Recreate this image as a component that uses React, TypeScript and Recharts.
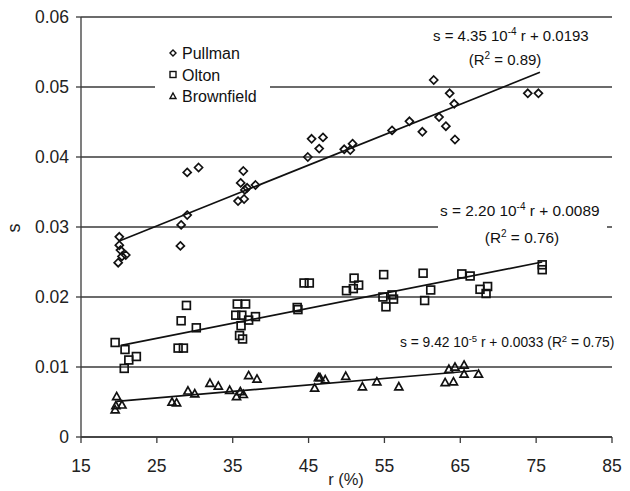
import React from "react";
import {
  ScatterChart,
  Scatter,
  XAxis,
  YAxis,
  CartesianGrid,
  ReferenceLine,
  Customized,
} from "recharts";

// Pullman
const pullmanR = [
  20.05, 20.05, 20.2, 20.9, 20.4, 19.9, 28.1, 28.2, 29.0, 29.0, 30.5, 35.7, 36.5, 36.05, 36.4, 36.6,
  36.9, 38.0, 44.9, 45.4, 46.9, 46.4, 49.7, 50.5, 50.8, 56.0, 58.3, 60.0, 61.5, 62.2, 63.1, 63.6,
  64.2, 64.3, 73.9, 75.3,
];
const pullmanS = [
  0.0286, 0.0274, 0.0267, 0.026, 0.0258, 0.0249, 0.0273, 0.0303, 0.0317, 0.0378, 0.0385, 0.0337,
  0.034, 0.0363, 0.038, 0.0353, 0.0356, 0.036, 0.04, 0.0426, 0.0428, 0.0412, 0.0411, 0.041, 0.0419,
  0.0438, 0.0451, 0.0436, 0.051, 0.0457, 0.0444, 0.0491, 0.0476, 0.0425, 0.0491, 0.0491,
];

// Olton
const oltonR = [
  19.5, 20.8, 21.3, 20.7, 22.3, 27.8, 28.5, 28.2, 28.9, 30.2, 35.6, 36.7, 35.4, 36.2, 37.1, 38.0,
  36.1, 35.9, 36.3, 43.5, 43.6, 44.4, 45.1, 50.0, 50.9, 51.0, 51.6, 54.8, 54.9, 55.2, 56.0, 56.2,
  60.1, 60.3, 61.1, 65.2, 66.3, 67.6, 68.4, 68.6, 75.8, 75.8,
];
const oltonS = [
  0.0135, 0.0125, 0.011, 0.0098, 0.0115, 0.0127, 0.0127, 0.0166, 0.0188, 0.0156, 0.019, 0.019,
  0.0174, 0.0174, 0.0167, 0.0172, 0.0159, 0.0145, 0.014, 0.0185, 0.0182, 0.022, 0.022, 0.0209,
  0.0212, 0.0227, 0.0217, 0.02, 0.0232, 0.0186, 0.0203, 0.0197, 0.0234, 0.0195, 0.021, 0.0233,
  0.023, 0.0211, 0.0205, 0.0215, 0.0246, 0.0239,
];

// Brownfield
const brownR = [
  19.7, 19.5, 19.6, 20.4, 27.0, 27.6, 29.1, 30.0, 32.0, 33.1, 34.6, 35.5, 36.0, 36.4, 37.1, 38.2,
  45.8, 46.3, 46.5, 47.2, 49.9, 52.1, 54.0, 56.9, 63.0, 64.1, 63.5, 64.3, 65.5, 65.5, 67.4,
];
const brownS = [
  0.0058, 0.0039, 0.0045, 0.0046, 0.005, 0.0049, 0.0066, 0.0062, 0.0077, 0.0073, 0.0067, 0.0058,
  0.0065, 0.0061, 0.0088, 0.0083, 0.007, 0.0085, 0.0085, 0.0082, 0.0087, 0.0072, 0.0079, 0.0072,
  0.0078, 0.0079, 0.0097, 0.01, 0.0103, 0.009, 0.009,
];

// fitted lines: [r start, s start, r end, s end]
const pullmanFit = [20.05, 0.028, 75.5, 0.0521];
const oltonFit = [20.3, 0.0131, 75.8, 0.025];
const brownFit = [19.7, 0.0051, 67.2, 0.0095];

const xTicks = [15, 25, 35, 45, 55, 65, 75, 85];
const yTicks = [0, 0.01, 0.02, 0.03, 0.04, 0.05, 0.06];

const INK = "#111";
const GRID = "#3a3a3a";
const FONT = "'Liberation Sans', Arial, sans-serif";

const toPoints = (r: number[], s: number[]) => r.map((v, i) => ({ r: v, s: s[i] }));

const Diamond = (p: any) => {
  const { cx, cy } = p;
  const h = 4;
  return (
    <path
      d={`M${cx},${cy - h}L${cx + h},${cy}L${cx},${cy + h}L${cx - h},${cy}Z`}
      fill="none"
      stroke={INK}
      strokeWidth={1.7}
    />
  );
};

const Square = (p: any) => {
  const { cx, cy } = p;
  const h = 3.9;
  return <rect x={cx - h} y={cy - h} width={2 * h} height={2 * h} fill="none" stroke={INK} strokeWidth={1.7} />;
};

const Triangle = (p: any) => {
  const { cx, cy } = p;
  const h = 4;
  return (
    <path
      d={`M${cx},${cy - h}L${cx + h},${cy + h * 0.8}L${cx - h},${cy + h * 0.8}Z`}
      fill="none"
      stroke={INK}
      strokeWidth={1.7}
    />
  );
};

// legend drawn inside the plot, with a white box over the 0.05 gridline
const LegendBox = () => (
  <g>
    <rect x={155} y={38} width={115} height={68} fill="#fff" />
    <path d="M173,50L176,53L173,56L170,53Z" fill="none" stroke={INK} strokeWidth={1.4} />
    <rect x={170} y={71.5} width={6} height={6} fill="none" stroke={INK} strokeWidth={1.4} />
    <path d="M173,93L176,98.5L170,98.5Z" fill="none" stroke={INK} strokeWidth={1.4} />
    <g fontFamily={FONT} fontSize={16} fill="#111">
      <text x={182} y={59}>Pullman</text>
      <text x={182} y={81}>Olton</text>
      <text x={182} y={102}>Brownfield</text>
    </g>
  </g>
);

const Equations = () => (
  <g fontFamily={FONT} fill="#111">
    <text x={433} y={41} fontSize={15}>
      s = 4.35 10<tspan dy={-6} fontSize={10}>-4</tspan>
      <tspan dy={6}> r + 0.0193</tspan>
    </text>
    <text x={505} y={65} textAnchor="middle" fontSize={15}>
      (R<tspan dy={-6} fontSize={10}>2</tspan>
      <tspan dy={6}> = 0.89)</tspan>
    </text>
    <rect x={438} y={198} width={169} height={52} fill="#fff" />
    <text x={440} y={216} fontSize={15.4}>
      s = 2.20 10<tspan dy={-6} fontSize={10}>-4</tspan>
      <tspan dy={6}> r + 0.0089</tspan>
    </text>
    <text x={522} y={243} textAnchor="middle" fontSize={15.4}>
      (R<tspan dy={-6} fontSize={10}>2</tspan>
      <tspan dy={6}> = 0.76)</tspan>
    </text>
    <text x={400} y={347} fontSize={13.8}>
      s = 9.42 10<tspan dy={-5.5} fontSize={9.5}>-5</tspan>
      <tspan dy={5.5}> r + 0.0033 (R</tspan>
      <tspan dy={-5.5} fontSize={9.5}>2</tspan>
      <tspan dy={5.5}> = 0.75)</tspan>
    </text>
  </g>
);

const fitSegment = (f: number[]) => [
  { x: f[0], y: f[1] },
  { x: f[2], y: f[3] },
];

export default function App() {
  return (
    <div style={{ position: "absolute", left: 0, top: 0, background: "#fff" }}>
      <ScatterChart
        width={630}
        height={491}
        margin={{ top: 17, right: 18, bottom: 14, left: 11 }}
        style={{ fontFamily: FONT }}
      >
        <CartesianGrid vertical={false} stroke={GRID} strokeWidth={1.3} />
        <XAxis
          dataKey="r"
          type="number"
          domain={[15, 85]}
          ticks={xTicks}
          height={40}
          tickSize={6}
          tickMargin={17}
          stroke={GRID}
          strokeWidth={1.3}
          tick={{ fill: "#222", fontSize: 17.5 }}
          label={{
            content: () => (
              <text x={346} y={485} textAnchor="middle" fontSize={16.5} fill="#222" fontFamily={FONT}>
                r (%)
              </text>
            ),
          }}
        />
        <YAxis
          dataKey="s"
          type="number"
          domain={[0, 0.06]}
          ticks={yTicks}
          width={70}
          tickSize={5}
          tickMargin={7}
          stroke={GRID}
          strokeWidth={1.3}
          tick={{ fill: "#222", fontSize: 17.5 }}
          tickFormatter={(v: number) => (v === 0 ? "0" : v.toFixed(2))}
          label={{
            content: () => (
              <text
                x={20}
                y={228}
                transform="rotate(-90 20 228)"
                textAnchor="middle"
                fontSize={18}
                fill="#222"
                fontFamily={FONT}
              >
                s
              </text>
            ),
          }}
        />
        <Customized component={LegendBox} />
        <ReferenceLine segment={fitSegment(pullmanFit)} stroke={INK} strokeWidth={1.7} />
        <ReferenceLine segment={fitSegment(oltonFit)} stroke={INK} strokeWidth={1.7} />
        <ReferenceLine segment={fitSegment(brownFit)} stroke={INK} strokeWidth={1.7} />
        <Scatter name="Pullman" data={toPoints(pullmanR, pullmanS)} shape={Diamond} isAnimationActive={false} />
        <Scatter name="Olton" data={toPoints(oltonR, oltonS)} shape={Square} isAnimationActive={false} />
        <Scatter name="Brownfield" data={toPoints(brownR, brownS)} shape={Triangle} isAnimationActive={false} />
        <Customized component={Equations} />
      </ScatterChart>
    </div>
  );
}
